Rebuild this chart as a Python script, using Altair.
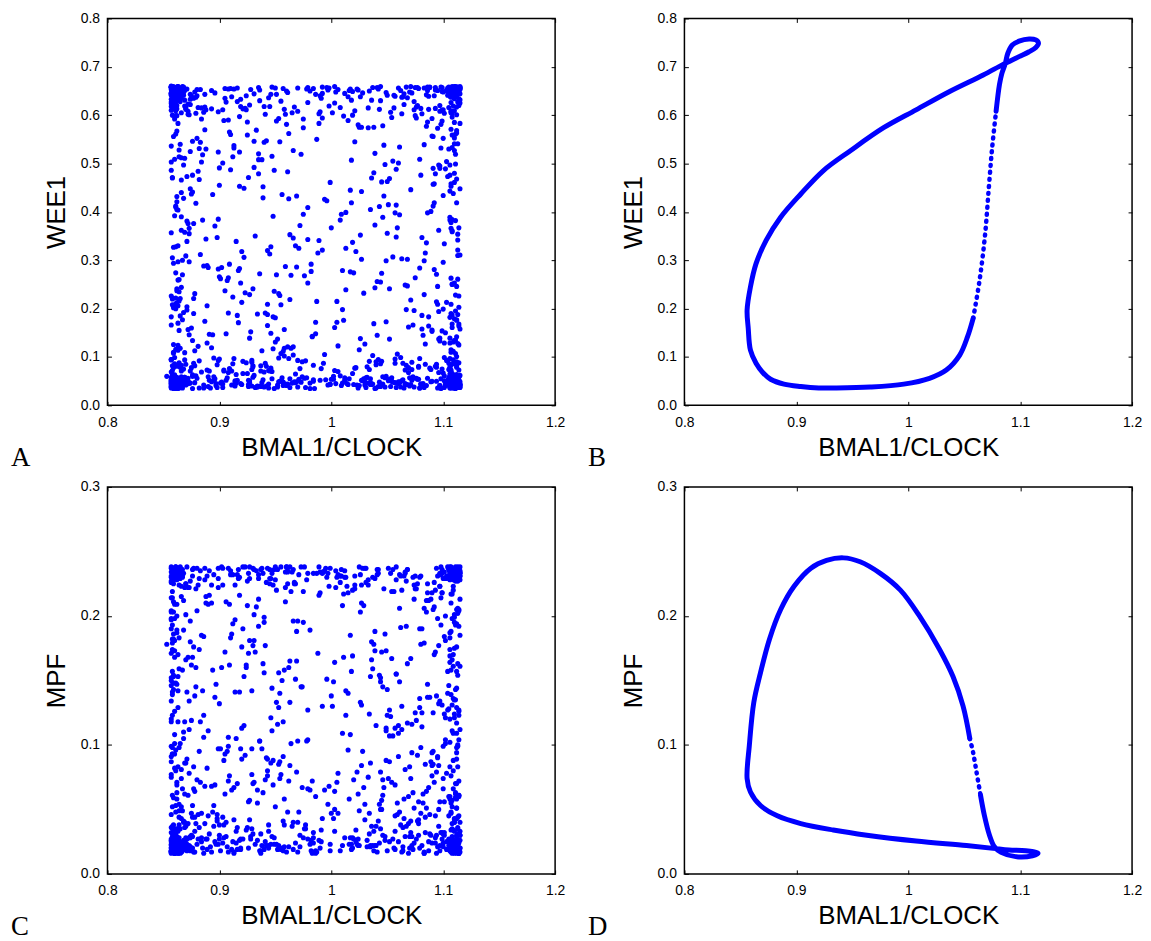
import altair as alt
import pandas as pd

# ---------------- data ----------------
# BMAL1/CLOCK values of the cells (shared by panels A and C)
bmal1 = [
0.861,0.973,1.112,0.904,1.047,0.858,1.108,0.927,0.871,1.063,0.992,1.113,0.889,1.096,0.864,1.031,0.958,0.912,1.077,1.107,
1.009,0.857,0.943,1.114,0.876,1.088,0.866,1.024,0.898,1.101,0.862,0.967,1.056,1.110,0.921,0.859,1.071,0.984,1.106,0.935,
0.868,1.113,1.039,0.952,0.860,0.884,1.109,1.082,0.999,0.873,1.044,1.094,0.857,0.916,1.111,0.946,1.018,0.863,1.067,0.901,
1.105,0.938,0.865,1.059,0.981,1.115,0.893,0.858,1.028,1.099,0.927,0.870,1.112,0.962,1.085,0.907,0.861,1.049,1.003,0.882,
0.957,1.108,0.866,0.912,1.074,0.859,1.036,0.994,1.114,0.878,0.931,1.092,0.862,1.052,0.886,1.107,0.971,1.013,0.857,0.949,
1.066,0.863,1.110,0.890,1.021,0.940,1.103,0.857,0.975,1.081,0.869,1.113,0.918,1.045,0.861,0.988,1.097,0.904,1.109,1.029,
0.858,0.926,1.058,1.115,0.865,0.963,1.087,0.899,1.106,0.874,1.041,0.860,1.002,1.112,0.935,1.070,0.883,1.100,0.956,0.864,
1.111,0.911,0.859,1.033,0.985,1.104,0.867,1.078,0.944,0.862,1.060,1.108,0.895,1.019,0.872,0.968,1.114,1.090,0.923,0.857,
0.996,1.107,0.863,1.050,0.908,1.113,0.877,0.860,1.083,0.953,1.026,1.095,0.932,0.858,1.110,0.887,1.064,0.979,0.866,1.105,
0.919,0.861,1.112,1.037,0.970,0.857,1.098,0.900,1.109,1.054,0.869,0.941,1.011,1.115,0.864,1.072,0.885,0.959,1.106,1.042,
0.862,1.079,0.946,1.111,0.880,1.017,0.859,1.102,0.913,0.990,1.114,1.061,0.871,0.929,1.107,0.865,1.046,0.964,1.093,0.858,
1.108,0.896,1.035,0.860,0.977,1.113,1.069,0.875,0.952,0.863,1.089,1.110,0.915,1.005,0.857,1.057,0.939,1.104,0.868,1.022,
0.937,0.866,1.106,0.987,1.048,0.858,1.115,0.903,0.873,1.097,1.030,0.961,1.109,0.861,0.924,1.075,0.889,1.112,0.998,0.864,
1.053,1.111,0.859,0.909,1.086,0.966,0.867,1.107,1.015,0.930,0.862,1.101,1.040,0.881,1.113,0.949,0.857,1.065,0.983,1.108,
0.870,0.917,1.110,1.062,0.860,0.993,1.091,0.897,1.114,0.863,1.027,0.955,1.105,0.876,0.942,1.080,0.858,1.112,1.008,0.905,
1.109,0.864,0.973,1.044,0.892,1.115,0.857,1.073,0.928,1.099,0.866,1.020,0.960,1.107,0.879,0.914,1.055,0.861,1.111,0.981,
0.859,1.034,1.106,0.948,0.872,1.084,1.113,0.910,0.862,0.997,1.068,1.094,0.936,0.858,1.112,0.888,1.012,0.969,0.865,1.108,
1.046,0.861,0.920,1.110,0.978,1.103,0.868,1.025,0.857,0.902,1.114,1.076,0.954,0.874,1.106,0.863,0.933,1.038,1.092,0.860,
0.991,1.112,0.867,1.058,0.894,0.859,1.109,0.945,1.081,1.016,0.864,1.100,0.926,1.115,0.878,0.972,1.051,0.857,1.107,0.908,
0.862,1.070,0.951,1.111,0.883,1.032,0.858,1.096,0.916,1.113,0.866,1.004,0.963,1.043,0.860,1.106,0.898,1.087,0.869,1.110,
1.023,0.857,0.938,1.108,0.976,0.863,1.064,1.114,0.890,0.861,1.093,0.947,1.010,1.105,0.873,0.921,1.078,0.859,1.112,0.986,
1.114,0.906,0.865,1.049,0.958,1.109,0.857,1.085,0.877,1.001,1.111,0.931,0.862,1.060,1.098,0.944,0.868,1.019,1.107,0.891,
0.860,0.968,1.113,1.037,0.911,0.864,1.102,0.982,1.072,0.858,1.110,0.925,0.875,1.053,1.106,0.953,0.861,1.089,0.900,1.115,
1.031,1.107,0.859,0.934,1.066,0.870,1.112,0.995,0.887,1.104,0.863,1.014,0.943,1.108,0.857,1.079,0.913,0.966,1.111,0.866,
0.919,0.862,1.057,1.114,0.979,0.858,1.095,0.903,1.109,0.872,1.041,0.957,0.860,1.113,0.929,1.074,0.884,1.106,1.006,0.864,
1.110,0.950,0.866,1.027,1.101,0.895,0.857,1.063,0.989,1.115,0.861,0.918,1.083,0.876,1.107,0.974,1.047,0.859,1.112,0.937,
0.863,1.105,0.909,1.018,0.858,1.112,0.961,1.090,0.880,1.039,1.108,0.865,0.940,1.071,0.860,0.999,1.114,0.893,1.055,1.097,
0.984,0.859,1.111,1.044,0.871,0.922,1.106,0.862,1.076,0.955,1.113,0.886,1.024,0.857,1.103,0.914,0.868,1.061,0.970,1.109,
1.107,0.864,0.947,1.086,1.003,0.860,1.114,0.899,1.035,0.874,1.110,0.965,0.858,1.052,0.930,1.099,0.863,1.012,1.112,0.882,
0.866,1.068,1.108,0.927,0.859,0.992,1.115,0.879,1.042,1.091,0.861,0.906,1.111,0.960,1.020,0.857,1.080,0.942,1.106,0.869,
0.853,
0.859,1.108,0.934,0.863,1.072,1.112,0.870,0.986,0.857,1.099,0.915,1.110,0.861,1.041,0.957,0.865,1.106,0.874,1.113,0.858,
1.004,0.862,1.114,0.896,1.058,0.857,1.107,0.868,0.945,1.111,0.860,1.083,1.097,0.864,0.921,1.109,0.976,0.858,1.032,1.112,
0.866,1.105,0.908,1.113,0.859,1.065,0.962,0.862,1.110,0.877,1.023,1.108,0.857,0.939,1.101,0.865,1.115,0.994,0.861,1.049,
1.109,0.858,1.037,0.928,1.112,0.863,0.871,1.090,1.106,0.860,0.969,1.114,0.886,1.061,0.857,1.103,0.949,0.866,1.111,1.015,
0.862,0.953,1.107,0.859,1.078,0.899,1.113,0.864,1.026,0.857,1.110,0.873,0.981,1.096,0.861,0.919,1.108,1.054,0.858,1.115,
1.112,0.867,1.000,1.106,0.860,1.044,0.881,1.109,0.857,0.937,1.114,0.863,1.068,1.100,0.970,0.859,1.111,0.905,0.865,1.086,
0.858,1.113,0.942,0.862,1.107,1.019,0.869,1.110,0.960,0.857,1.075,1.104,0.891,0.864,1.112,1.035,0.861,0.925,1.108,0.999,
1.106,0.860,1.057,1.114,0.876,0.913,1.109,0.858,0.979,1.098,0.866,1.111,1.028,0.863,0.948,1.113,0.857,1.084,0.870,1.105,
0.864,1.030,1.112,0.857,0.902,1.107,0.989,0.861,1.115,1.062,0.872,0.858,1.108,0.931,1.102,0.866,1.046,1.110,0.955,0.860,
1.111,0.863,0.918,1.106,0.859,1.070,1.113,0.868,0.965,0.857,1.095,1.109,0.884,1.012,0.862,1.114,0.940,0.865,1.052,1.107,
0.857,1.112,1.008,0.862,0.893,1.105,0.860,1.081,1.110,0.947,0.867,1.113,1.025,0.858,0.974,1.108,0.864,1.100,0.911,1.115,
1.108,0.861,1.066,0.930,1.114,0.857,0.875,1.106,0.990,0.863,1.111,1.039,0.859,0.959,1.097,1.112,0.866,0.900,1.109,1.055,
0.860,0.984,1.113,0.865,1.088,0.858,1.107,0.923,0.871,1.115,1.017,0.862,1.110,0.951,0.857,1.073,1.104,0.889,0.864,1.111,
1.114,0.863,0.936,1.109,1.048,0.859,1.112,0.878,1.003,0.857,1.106,1.092,0.866,0.914,1.113,0.861,1.060,0.968,1.108,0.858,
0.865,1.110,1.029,0.857,0.897,1.115,0.862,1.077,1.107,0.944,0.869,1.112,0.860,0.992,1.101,0.858,1.040,1.109,0.926,0.864,
1.107,0.858,0.963,1.113,0.862,1.083,0.882,1.110,0.859,1.010,1.114,0.867,0.938,1.099,0.857,1.106,1.051,0.863,1.111,0.906,
0.861,1.115,1.069,0.866,0.950,1.108,0.857,0.874,1.112,1.021,0.860,1.094,0.917,1.106,0.863,0.978,1.113,0.858,1.036,1.109,
1.110,0.857,0.929,1.107,0.864,1.057,1.114,0.859,0.997,0.870,1.111,1.087,0.862,0.943,1.105,0.857,1.113,1.013,0.866,1.108,
0.858,1.033,1.112,0.863,0.910,1.109,0.860,1.074,0.956,1.115,0.865,1.102,0.880,1.106,0.857,0.982,1.043,1.111,0.861,0.920,
1.113,0.859,1.006,1.108,0.868,1.063,0.857,1.110,0.935,0.862,1.097,1.114,0.887,0.864,1.107,1.024,0.971,0.858,1.112,1.080,
0.863,1.106,0.952,0.857,1.111,1.045,0.873,0.860,1.115,0.903,1.091,1.109,0.866,0.987,0.858,1.107,1.067,0.862,1.113,0.932,
1.108,0.861,1.016,1.112,0.858,0.924,1.105,0.865,1.079,0.857,1.110,0.966,0.869,1.114,1.038,0.859,1.100,0.895,1.107,0.863,
0.857,1.113,0.941,0.862,1.060,1.109,0.876,0.858,1.111,1.002,0.864,1.085,1.106,0.916,0.860,1.115,0.975,0.866,1.050,1.108,
1.111,0.859,1.027,1.107,0.863,0.908,1.114,0.857,1.071,0.961,1.110,0.867,0.888,1.103,0.861,1.112,1.009,0.858,0.946,1.106,
0.864,1.109,0.979,0.857,1.113,1.034,0.860,0.927,1.108,0.872,1.093,1.115,0.862,0.954,1.065,0.858,1.111,0.899,1.107,0.865,
0.883,1.064,0.931,1.087,0.872,0.996,1.042,0.905,1.098,0.958,0.877,1.021,0.944,1.079,0.868,0.983,1.056,0.915,1.093,0.939,
1.011,0.889,1.069,0.926,1.101,0.873,0.967,1.034,0.901,1.083,0.948,0.879,1.058,0.991,0.920,1.095,0.869,1.027,0.954,1.074,
0.898,1.046,0.975,1.090,0.884,0.937,1.017,1.097,0.871,0.962,1.062,0.909,1.081,0.990,0.876,1.038,0.929,1.100,0.951,1.005,
1.071,0.893,1.025,0.946,1.099,0.880,1.052,0.918,0.970,1.086,0.870,1.003,0.935,1.067,0.896,1.094,0.959,1.030,0.882,1.078,
0.941,1.089,0.875,1.015,0.964,1.059,0.903,1.096,0.986,0.874,1.044,0.922,1.076,0.953,0.891,1.102,1.008,0.867,1.035,0.913,
1.085,0.927,1.049,0.878,0.998,1.092,0.943,1.066,0.885,1.019,0.961,1.098,0.907,1.040,0.870,0.979,1.073,0.933,1.088,0.894,
0.958,1.039,0.881,1.095,0.924,1.061,0.989,0.872,1.080,0.947,1.013,0.899,1.100,0.969,0.878,1.054,0.936,1.084,0.912,1.026,
1.097,0.886,0.972,1.045,0.916,1.077,0.869,1.000,1.091,0.950,0.890,1.063,0.930,1.018,0.877,1.086,0.966,1.048,0.904,1.101,
0.919,1.075,1.006,0.871,1.094,0.940,1.033,0.887,1.068,0.977,0.910,1.099,0.955,0.874,1.043,0.925,1.082,0.992,0.866,1.057,
1.036,0.900,1.090,0.963,0.879,1.072,0.945,1.010,1.096,0.888,0.984,1.050,0.873,0.934,1.079,1.022,0.908,1.093,0.957,0.876]

# WEE1 values (panel A)
wee1 = [
0.412,0.048,0.652,0.071,0.538,0.039,0.187,0.621,0.044,0.303,0.645,0.056,0.129,0.497,0.088,0.037,0.612,0.224,0.657,0.571,
0.041,0.633,0.165,0.052,0.476,0.658,0.083,0.036,0.347,0.604,0.212,0.049,0.641,0.553,0.066,0.108,0.043,0.655,0.389,0.520,
0.647,0.058,0.243,0.038,0.592,0.615,0.094,0.045,0.461,0.146,0.659,0.271,0.053,0.628,0.040,0.077,0.507,0.650,0.198,0.046,
0.074,0.047,0.639,0.367,0.035,0.583,0.119,0.654,0.051,0.610,0.229,0.042,0.468,0.097,0.642,0.057,0.328,0.173,0.625,0.531,
0.655,0.039,0.512,0.086,0.196,0.050,0.631,0.426,0.044,0.648,0.062,0.281,0.567,0.137,0.036,0.607,0.054,0.239,0.660,0.486,
0.043,0.206,0.637,0.059,0.545,0.069,0.652,0.038,0.395,0.158,0.619,0.048,0.453,0.091,0.643,0.315,0.041,0.589,0.112,0.055,
0.600,0.052,0.348,0.657,0.079,0.037,0.183,0.524,0.646,0.046,0.256,0.629,0.060,0.101,0.479,0.040,0.653,0.434,0.057,0.216,
0.049,0.638,0.126,0.574,0.035,0.656,0.270,0.081,0.044,0.613,0.501,0.168,0.052,0.649,0.376,0.065,0.039,0.557,0.233,0.624,
0.657,0.084,0.042,0.463,0.191,0.056,0.635,0.047,0.299,0.593,0.138,0.651,0.037,0.072,0.541,0.617,0.053,0.409,0.244,0.058,
0.045,0.561,0.644,0.103,0.038,0.226,0.658,0.491,0.063,0.050,0.358,0.602,0.176,0.041,0.636,0.089,0.518,0.287,0.054,0.654,
0.620,0.036,0.149,0.059,0.653,0.445,0.078,0.043,0.532,0.640,0.203,0.048,0.339,0.093,0.609,0.051,0.578,0.118,0.657,0.040,
0.251,0.646,0.055,0.509,0.037,0.627,0.068,0.160,0.042,0.659,0.401,0.585,0.046,0.215,0.618,0.096,0.053,0.473,0.641,0.318,
0.039,0.654,0.182,0.550,0.057,0.082,0.632,0.044,0.366,0.495,0.049,0.647,0.131,0.035,0.611,0.264,0.073,0.568,0.656,0.052,
0.606,0.043,0.294,0.076,0.651,0.527,0.041,0.190,0.638,0.058,0.421,0.099,0.036,0.484,0.644,0.236,0.050,0.622,0.142,0.047,
0.055,0.171,0.659,0.038,0.597,0.087,0.457,0.045,0.634,0.330,0.052,0.107,0.648,0.546,0.040,0.614,0.220,0.064,0.383,0.655,
0.642,0.048,0.519,0.255,0.036,0.625,0.094,0.059,0.653,0.154,0.440,0.043,0.581,0.070,0.637,0.051,0.307,0.200,0.499,0.046,
0.062,0.650,0.039,0.391,0.608,0.127,0.054,0.560,0.657,0.042,0.247,0.085,0.630,0.471,0.037,0.344,0.645,0.049,0.185,0.533,
0.044,0.599,0.213,0.656,0.057,0.504,0.075,0.041,0.641,0.285,0.164,0.617,0.050,0.448,0.097,0.652,0.038,0.575,0.419,0.053,
0.635,0.090,0.047,0.488,0.146,0.659,0.036,0.313,0.603,0.055,0.528,0.067,0.043,0.644,0.231,0.372,0.051,0.627,0.115,0.590,
0.058,0.648,0.270,0.040,0.544,0.080,0.621,0.194,0.052,0.655,0.466,0.045,0.353,0.612,0.061,0.139,0.037,0.639,0.511,0.048,
0.654,0.042,0.113,0.596,0.056,0.404,0.638,0.073,0.039,0.222,0.479,0.658,0.046,0.616,0.297,0.091,0.054,0.556,0.177,0.643,
0.038,0.627,0.540,0.060,0.157,0.649,0.044,0.336,0.087,0.605,0.050,0.492,0.241,0.656,0.035,0.636,0.428,0.066,0.209,0.052,
0.619,0.047,0.188,0.657,0.071,0.514,0.041,0.277,0.646,0.055,0.134,0.586,0.640,0.039,0.383,0.098,0.609,0.049,0.455,0.043,
0.057,0.458,0.652,0.040,0.249,0.615,0.083,0.053,0.570,0.641,0.170,0.045,0.320,0.604,0.069,0.036,0.537,0.121,0.659,0.051,
0.633,0.044,0.398,0.088,0.657,0.042,0.209,0.501,0.058,0.623,0.145,0.048,0.644,0.261,0.074,0.038,0.592,0.476,0.653,0.055,
0.046,0.181,0.648,0.575,0.037,0.098,0.610,0.051,0.341,0.655,0.043,0.524,0.229,0.063,0.637,0.059,0.433,0.110,0.601,0.040,
0.659,0.053,0.292,0.631,0.047,0.079,0.483,0.156,0.640,0.035,0.559,0.052,0.618,0.218,0.086,0.044,0.367,0.651,0.505,0.041,
0.050,0.613,0.135,0.039,0.654,0.449,0.065,0.237,0.056,0.629,0.310,0.042,0.580,0.645,0.093,0.048,0.192,0.534,0.608,0.037,
0.626,0.045,0.515,0.658,0.072,0.054,0.168,0.385,0.043,0.643,0.253,0.605,0.040,0.469,0.082,0.649,0.124,0.057,0.563,0.036,
0.052,0.636,0.359,0.047,0.202,0.594,0.656,0.061,0.039,0.490,0.624,0.148,0.055,0.650,0.274,0.095,0.044,0.547,0.639,0.058,
0.060,
0.043,0.651,0.038,0.297,0.052,0.640,0.047,0.172,0.036,0.588,0.064,0.049,0.410,0.657,0.041,0.118,0.079,0.622,0.354,0.045,
0.648,0.040,0.226,0.055,0.037,0.503,0.644,0.046,0.071,0.382,0.050,0.656,0.139,0.039,0.613,0.044,0.268,0.638,0.058,0.053,
0.039,0.087,0.654,0.045,0.327,0.036,0.562,0.051,0.642,0.190,0.042,0.659,0.048,0.429,0.061,0.628,0.037,0.105,0.054,0.647,
0.057,0.637,0.044,0.152,0.658,0.038,0.473,0.050,0.076,0.645,0.286,0.041,0.606,0.047,0.653,0.213,0.035,0.390,0.055,0.043,
0.641,0.049,0.366,0.036,0.655,0.093,0.042,0.235,0.638,0.053,0.527,0.046,0.650,0.068,0.038,0.618,0.161,0.057,0.305,0.044,
0.040,0.659,0.054,0.443,0.047,0.630,0.122,0.037,0.646,0.082,0.051,0.259,0.043,0.552,0.656,0.039,0.195,0.635,0.048,0.056,
0.652,0.045,0.081,0.643,0.036,0.337,0.058,0.609,0.041,0.486,0.657,0.052,0.147,0.039,0.640,0.047,0.274,0.066,0.649,0.043,
0.050,0.392,0.639,0.044,0.060,0.654,0.038,0.208,0.626,0.055,0.041,0.519,0.646,0.035,0.117,0.658,0.046,0.315,0.085,0.053,
0.637,0.042,0.176,0.657,0.048,0.073,0.603,0.039,0.448,0.651,0.056,0.037,0.250,0.644,0.045,0.362,0.059,0.634,0.051,0.099,
0.044,0.655,0.283,0.040,0.642,0.057,0.128,0.658,0.046,0.536,0.036,0.619,0.069,0.052,0.405,0.648,0.038,0.221,0.054,0.640,
0.658,0.037,0.061,0.432,0.049,0.647,0.043,0.186,0.636,0.055,0.300,0.040,0.575,0.653,0.090,0.047,0.155,0.611,0.042,0.659,
0.051,0.641,0.045,0.241,0.656,0.038,0.078,0.497,0.052,0.632,0.036,0.373,0.650,0.044,0.133,0.057,0.645,0.266,0.041,0.048,
0.639,0.053,0.342,0.046,0.657,0.064,0.039,0.614,0.204,0.049,0.654,0.035,0.461,0.643,0.095,0.056,0.043,0.289,0.649,0.050,
0.042,0.114,0.652,0.058,0.038,0.634,0.419,0.047,0.659,0.166,0.053,0.640,0.071,0.040,0.541,0.656,0.045,0.330,0.037,0.627,
0.655,0.048,0.232,0.643,0.041,0.062,0.599,0.054,0.378,0.036,0.651,0.142,0.046,0.658,0.051,0.470,0.084,0.638,0.039,0.260,
0.044,0.647,0.055,0.321,0.638,0.037,0.092,0.653,0.049,0.198,0.620,0.042,0.508,0.657,0.058,0.040,0.415,0.645,0.107,0.052,
0.650,0.038,0.162,0.059,0.656,0.045,0.357,0.633,0.041,0.077,0.642,0.050,0.279,0.036,0.583,0.654,0.048,0.222,0.043,0.639,
0.054,0.657,0.040,0.453,0.644,0.047,0.125,0.035,0.652,0.309,0.060,0.612,0.044,0.188,0.658,0.051,0.039,0.399,0.636,0.066,
0.641,0.046,0.246,0.037,0.655,0.086,0.052,0.628,0.436,0.042,0.649,0.150,0.056,0.038,0.659,0.292,0.048,0.561,0.645,0.043,
0.039,0.648,0.070,0.384,0.053,0.637,0.045,0.179,0.657,0.041,0.490,0.058,0.643,0.036,0.110,0.652,0.325,0.049,0.617,0.044,
0.656,0.050,0.137,0.040,0.639,0.273,0.047,0.063,0.653,0.037,0.412,0.645,0.055,0.215,0.042,0.605,0.658,0.081,0.046,0.350,
0.043,0.210,0.651,0.057,0.040,0.640,0.530,0.048,0.097,0.657,0.036,0.346,0.631,0.052,0.169,0.044,0.648,0.059,0.263,0.654,
0.645,0.038,0.087,0.658,0.049,0.438,0.035,0.623,0.228,0.054,0.646,0.041,0.129,0.656,0.046,0.311,0.574,0.043,0.641,0.062,
0.052,0.654,0.302,0.039,0.637,0.068,0.047,0.183,0.659,0.044,0.480,0.036,0.611,0.650,0.116,0.055,0.395,0.041,0.643,0.050,
0.649,0.042,0.253,0.657,0.037,0.074,0.634,0.051,0.361,0.046,0.652,0.158,0.040,0.545,0.644,0.058,0.035,0.282,0.655,0.048,
0.312,0.087,0.546,0.164,0.602,0.423,0.095,0.237,0.581,0.118,0.376,0.609,0.072,0.284,0.497,0.143,0.615,0.339,0.081,0.452,
0.598,0.206,0.078,0.471,0.129,0.355,0.617,0.091,0.262,0.539,0.183,0.604,0.414,0.076,0.318,0.573,0.109,0.442,0.227,0.611,
0.084,0.389,0.592,0.153,0.503,0.071,0.276,0.620,0.197,0.427,0.099,0.565,0.347,0.607,0.134,0.481,0.089,0.296,0.588,0.172,
0.446,0.613,0.115,0.328,0.075,0.552,0.241,0.597,0.093,0.398,0.618,0.161,0.508,0.083,0.371,0.214,0.602,0.127,0.467,0.079,
0.191,0.074,0.437,0.589,0.269,0.106,0.611,0.362,0.148,0.525,0.086,0.306,0.594,0.231,0.071,0.489,0.616,0.177,0.405,0.097,
0.577,0.139,0.299,0.082,0.619,0.458,0.209,0.073,0.383,0.600,0.121,0.532,0.258,0.090,0.612,0.343,0.166,0.569,0.077,0.436,
0.102,0.521,0.616,0.246,0.088,0.394,0.583,0.157,0.476,0.070,0.325,0.607,0.199,0.433,0.113,0.595,0.272,0.085,0.514,0.352,
0.608,0.288,0.076,0.462,0.186,0.620,0.094,0.367,0.556,0.131,0.285,0.603,0.080,0.419,0.221,0.586,0.104,0.498,0.073,0.334,
0.253,0.599,0.123,0.381,0.079,0.544,0.615,0.174,0.302,0.092,0.487,0.610,0.208,0.071,0.411,0.559,0.145,0.321,0.605,0.087,
0.470,0.096,0.593,0.219,0.418,0.074,0.618,0.279,0.137,0.530,0.083,0.356,0.601,0.189,0.509,0.078,0.264,0.614,0.112,0.441]

# MPF values (panel C)
mpf = [
0.021,0.145,0.236,0.038,0.067,0.018,0.198,0.229,0.027,0.112,0.233,0.083,0.019,0.177,0.044,0.237,0.158,0.025,0.092,0.210,
0.231,0.017,0.089,0.205,0.029,0.137,0.235,0.022,0.041,0.184,0.058,0.226,0.020,0.121,0.238,0.034,0.074,0.024,0.164,0.232,
0.026,0.234,0.173,0.019,0.101,0.047,0.223,0.062,0.237,0.028,0.149,0.016,0.214,0.036,0.230,0.086,0.023,0.129,0.192,0.018,
0.128,0.022,0.236,0.055,0.189,0.030,0.017,0.227,0.095,0.233,0.042,0.166,0.025,0.072,0.203,0.021,0.238,0.113,0.033,0.229,
0.018,0.217,0.081,0.232,0.024,0.154,0.037,0.235,0.020,0.064,0.181,0.226,0.029,0.107,0.016,0.236,0.048,0.142,0.099,0.023,
0.234,0.027,0.135,0.045,0.221,0.019,0.078,0.237,0.195,0.022,0.118,0.031,0.230,0.057,0.017,0.171,0.233,0.088,0.026,0.208,
0.061,0.020,0.228,0.161,0.035,0.238,0.025,0.097,0.187,0.018,0.232,0.126,0.043,0.070,0.213,0.029,0.235,0.021,0.150,0.224,
0.024,0.186,0.236,0.075,0.017,0.140,0.231,0.039,0.022,0.200,0.109,0.234,0.053,0.028,0.168,0.225,0.019,0.084,0.238,0.032,
0.230,0.047,0.019,0.123,0.237,0.026,0.066,0.209,0.016,0.156,0.232,0.090,0.023,0.179,0.040,0.228,0.021,0.104,0.235,0.060,
0.027,0.233,0.094,0.022,0.196,0.036,0.238,0.132,0.018,0.071,0.222,0.025,0.168,0.231,0.049,0.116,0.020,0.211,0.083,0.236,
0.147,0.020,0.229,0.059,0.237,0.028,0.182,0.101,0.017,0.234,0.045,0.206,0.023,0.077,0.139,0.232,0.030,0.219,0.024,0.093,
0.235,0.069,0.021,0.173,0.038,0.227,0.016,0.119,0.236,0.026,0.087,0.201,0.033,0.230,0.152,0.019,0.063,0.238,0.110,0.025,
0.018,0.215,0.102,0.233,0.029,0.052,0.185,0.237,0.022,0.134,0.042,0.225,0.080,0.017,0.160,0.231,0.027,0.194,0.068,0.235,
0.233,0.024,0.143,0.076,0.218,0.019,0.236,0.034,0.096,0.177,0.021,0.229,0.115,0.046,0.238,0.028,0.204,0.058,0.016,0.166,
0.086,0.229,0.017,0.191,0.035,0.234,0.125,0.023,0.061,0.237,0.210,0.020,0.146,0.044,0.226,0.098,0.026,0.232,0.018,0.172,
0.022,0.159,0.238,0.050,0.021,0.213,0.091,0.230,0.029,0.131,0.236,0.073,0.017,0.188,0.039,0.224,0.107,0.025,0.233,0.065,
0.236,0.031,0.120,0.224,0.019,0.085,0.202,0.232,0.024,0.054,0.163,0.237,0.018,0.141,0.043,0.215,0.028,0.079,0.229,0.020,
0.061,0.234,0.176,0.016,0.103,0.231,0.040,0.022,0.197,0.238,0.127,0.027,0.074,0.227,0.019,0.153,0.235,0.033,0.207,0.093,
0.025,0.089,0.230,0.155,0.048,0.018,0.220,0.236,0.114,0.023,0.183,0.066,0.233,0.030,0.138,0.021,0.237,0.198,0.057,0.017,
0.228,0.020,0.133,0.237,0.071,0.026,0.193,0.037,0.232,0.100,0.017,0.222,0.165,0.024,0.082,0.235,0.046,0.212,0.019,0.124,
0.023,0.226,0.097,0.035,0.238,0.170,0.018,0.060,0.209,0.231,0.028,0.144,0.022,0.236,0.078,0.190,0.042,0.225,0.117,0.016,
0.204,0.029,0.237,0.088,0.021,0.161,0.234,0.051,0.017,0.130,0.228,0.071,0.189,0.025,0.232,0.038,0.105,0.020,0.217,0.235,
0.034,0.151,0.019,0.230,0.065,0.236,0.200,0.026,0.094,0.018,0.175,0.227,0.047,0.122,0.238,0.022,0.080,0.213,0.030,0.233,
0.226,0.017,0.186,0.055,0.233,0.024,0.109,0.237,0.039,0.157,0.020,0.223,0.076,0.028,0.230,0.136,0.016,0.196,0.063,0.235,
0.019,0.237,0.069,0.123,0.027,0.214,0.231,0.044,0.170,0.021,0.236,0.091,0.032,0.206,0.142,0.224,0.025,0.058,0.232,0.018,
0.135,0.228,0.022,0.084,0.234,0.037,0.190,0.017,0.238,0.112,0.053,0.026,0.179,0.231,0.020,0.067,0.221,0.148,0.029,0.236,
0.233,0.045,0.162,0.019,0.219,0.098,0.235,0.024,0.073,0.229,0.131,0.016,0.195,0.041,0.237,0.023,0.104,0.210,0.027,0.056,
0.028,0.203,0.236,0.079,0.018,0.153,0.230,0.035,0.119,0.238,0.022,0.184,0.062,0.227,0.025,0.141,0.233,0.048,0.017,0.088,
0.232,0.021,0.111,0.225,0.050,0.168,0.016,0.237,0.086,0.029,0.199,0.234,0.024,0.127,0.070,0.218,0.019,0.235,0.157,0.036,
0.074,0.236,0.026,0.181,0.228,0.043,0.020,0.145,0.233,0.095,0.018,0.211,0.059,0.238,0.027,0.118,0.231,0.022,0.174,0.040,
0.178,
0.019,0.234,0.026,0.142,0.022,0.231,0.037,0.018,0.087,0.236,0.024,0.195,0.031,0.017,0.118,0.233,0.060,0.021,0.163,0.228,
0.235,0.020,0.072,0.025,0.238,0.134,0.018,0.041,0.229,0.023,0.181,0.016,0.232,0.098,0.027,0.236,0.035,0.157,0.021,0.051,
0.024,0.231,0.106,0.017,0.235,0.043,0.021,0.209,0.026,0.237,0.079,0.019,0.146,0.233,0.030,0.018,0.228,0.065,0.022,0.173,
0.230,0.018,0.159,0.027,0.237,0.033,0.020,0.094,0.234,0.016,0.188,0.024,0.123,0.232,0.046,0.019,0.236,0.022,0.070,0.140,
0.021,0.129,0.236,0.017,0.056,0.229,0.025,0.038,0.203,0.018,0.233,0.112,0.023,0.084,0.238,0.020,0.029,0.167,0.235,0.026,
0.233,0.022,0.047,0.237,0.019,0.152,0.027,0.231,0.075,0.016,0.192,0.034,0.236,0.024,0.103,0.018,0.228,0.062,0.021,0.137,
0.017,0.235,0.090,0.023,0.232,0.169,0.020,0.042,0.238,0.026,0.125,0.019,0.216,0.230,0.058,0.022,0.148,0.036,0.234,0.018,
0.230,0.025,0.113,0.019,0.236,0.067,0.021,0.182,0.233,0.032,0.017,0.135,0.237,0.024,0.088,0.229,0.020,0.044,0.201,0.027,
0.022,0.237,0.051,0.018,0.160,0.234,0.026,0.096,0.020,0.231,0.039,0.174,0.016,0.236,0.121,0.023,0.073,0.228,0.019,0.031,
0.235,0.016,0.141,0.024,0.232,0.083,0.019,0.212,0.037,0.238,0.021,0.109,0.028,0.230,0.063,0.018,0.156,0.234,0.025,0.048,
0.020,0.129,0.231,0.017,0.068,0.236,0.023,0.190,0.033,0.233,0.018,0.099,0.238,0.026,0.145,0.021,0.054,0.229,0.019,0.040,
0.232,0.024,0.081,0.237,0.016,0.171,0.030,0.235,0.020,0.118,0.227,0.022,0.059,0.234,0.018,0.205,0.043,0.027,0.136,0.236,
0.018,0.233,0.154,0.025,0.046,0.230,0.021,0.092,0.238,0.017,0.185,0.034,0.236,0.023,0.077,0.019,0.127,0.231,0.028,0.062,
0.237,0.020,0.103,0.229,0.026,0.038,0.234,0.017,0.164,0.022,0.233,0.071,0.019,0.197,0.236,0.029,0.115,0.024,0.052,0.232,
0.023,0.236,0.067,0.018,0.147,0.231,0.025,0.041,0.238,0.020,0.086,0.176,0.016,0.234,0.032,0.123,0.022,0.228,0.056,0.019,
0.229,0.021,0.133,0.035,0.235,0.017,0.095,0.024,0.232,0.208,0.019,0.049,0.237,0.027,0.150,0.018,0.074,0.233,0.022,0.040,
0.026,0.234,0.060,0.019,0.238,0.111,0.023,0.180,0.030,0.231,0.016,0.138,0.236,0.021,0.083,0.228,0.044,0.018,0.166,0.235,
0.232,0.017,0.097,0.025,0.236,0.045,0.020,0.153,0.233,0.028,0.193,0.018,0.071,0.237,0.022,0.120,0.036,0.230,0.024,0.057,
0.021,0.228,0.144,0.016,0.235,0.066,0.026,0.213,0.019,0.033,0.238,0.104,0.023,0.169,0.231,0.018,0.054,0.234,0.029,0.089,
0.236,0.020,0.078,0.233,0.024,0.130,0.017,0.040,0.229,0.187,0.022,0.061,0.237,0.019,0.158,0.027,0.232,0.093,0.016,0.047,
0.018,0.235,0.116,0.027,0.231,0.050,0.021,0.198,0.238,0.024,0.085,0.034,0.233,0.017,0.139,0.020,0.227,0.069,0.025,0.172,
0.234,0.022,0.058,0.019,0.237,0.162,0.026,0.101,0.230,0.016,0.043,0.236,0.023,0.126,0.018,0.211,0.031,0.232,0.076,0.021,
0.025,0.230,0.177,0.017,0.091,0.235,0.020,0.037,0.238,0.149,0.022,0.064,0.228,0.019,0.108,0.233,0.028,0.052,0.018,0.236,
0.231,0.019,0.131,0.024,0.237,0.072,0.016,0.203,0.032,0.234,0.021,0.158,0.027,0.229,0.048,0.018,0.236,0.098,0.023,0.183,
0.020,0.233,0.066,0.017,0.228,0.124,0.026,0.238,0.039,0.021,0.172,0.235,0.018,0.087,0.231,0.029,0.143,0.023,0.055,0.237,
0.118,0.036,0.201,0.067,0.222,0.151,0.041,0.093,0.214,0.058,0.176,0.224,0.033,0.129,0.189,0.072,0.219,0.105,0.045,0.163,
0.217,0.082,0.039,0.171,0.056,0.134,0.225,0.047,0.097,0.206,0.069,0.221,0.155,0.034,0.113,0.198,0.062,0.224,0.140,0.051,
0.043,0.145,0.219,0.076,0.185,0.031,0.108,0.223,0.089,0.160,0.038,0.209,0.125,0.218,0.053,0.178,0.035,0.099,0.220,0.071,
0.167,0.224,0.049,0.121,0.032,0.204,0.087,0.216,0.040,0.147,0.225,0.064,0.192,0.037,0.137,0.079,0.222,0.054,0.174,0.030,
0.073,0.030,0.162,0.218,0.101,0.046,0.224,0.132,0.060,0.196,0.035,0.115,0.221,0.085,0.031,0.181,0.226,0.066,0.153,0.042,
0.212,0.057,0.111,0.033,0.223,0.170,0.080,0.029,0.142,0.220,0.048,0.193,0.095,0.037,0.225,0.127,0.063,0.207,0.031,0.158,
0.038,0.188,0.224,0.091,0.034,0.149,0.216,0.061,0.178,0.029,0.123,0.222,0.074,0.165,0.044,0.219,0.103,0.032,0.194,0.133,
0.223,0.106,0.030,0.172,0.070,0.225,0.036,0.138,0.205,0.052,0.111,0.220,0.031,0.157,0.083,0.212,0.040,0.186,0.028,0.124,
0.097,0.221,0.047,0.141,0.030,0.199,0.224,0.068,0.117,0.035,0.183,0.218,0.077,0.028,0.154,0.208,0.055,0.130,0.223,0.033,
0.180,0.038,0.218,0.084,0.160,0.029,0.225,0.109,0.050,0.210,0.032,0.143,0.222,0.065,0.190,0.034,0.099,0.220,0.041,0.168]

# Limit cycle, panel B: densely sampled (slow) part, traced in order
cycle_b_x = [1.0785,1.0815,1.0835,1.0865,1.089,1.093,1.099,1.108,1.114,1.1164,1.114,1.108,1.099,1.092,1.084,
             1.067,1.037,1.007,0.978,0.948,0.924,0.904,0.886,0.873,0.864,0.859,0.856,0.857,0.859,0.864,
             0.870,0.877,0.889,0.904,0.920,0.936,0.966,0.996,1.019,1.034,1.046,1.053,1.058]
cycle_b_y = [0.608,0.663,0.685,0.705,0.728,0.745,0.753,0.7575,0.7555,0.749,0.740,0.731,0.721,0.713,0.704,
             0.683,0.649,0.611,0.574,0.526,0.485,0.437,0.389,0.341,0.293,0.245,0.197,0.160,0.114,0.087,
             0.068,0.054,0.044,0.039,0.036,0.036,0.038,0.044,0.056,0.073,0.104,0.142,0.180]
# Limit cycle, panel B: sparsely sampled (fast) right branch
fast_b_x = [1.058,1.0637,1.0687,1.072,1.075,1.0785]
fast_b_y = [0.180,0.258,0.354,0.450,0.533,0.608]

# Limit cycle, panel D: densely sampled part, traced in order
cycle_d_x = [1.0646,1.068,1.0726,1.077,1.083,1.096,1.111,1.116,1.105,1.090,1.076,1.052,1.007,0.963,0.933,
             0.904,0.883,0.868,0.859,0.856,0.858,0.862,0.868,0.876,0.886,0.898,0.913,0.927,0.942,0.957,
             0.975,0.993,1.010,1.028,1.040,1.049,1.055]
cycle_d_y = [0.061,0.0455,0.030,0.021,0.0167,0.0134,0.0141,0.016,0.018,0.0185,0.0198,0.022,0.0255,0.030,0.034,
             0.039,0.045,0.053,0.0635,0.074,0.0995,0.133,0.156,0.182,0.205,0.223,0.237,0.243,0.245,0.242,
             0.233,0.220,0.200,0.174,0.153,0.130,0.105]
# Limit cycle, panel D: sparsely sampled (fast) branch
fast_d_x = [1.055,1.058,1.061,1.0646]
fast_d_y = [0.105,0.094,0.079,0.061]

x_ticks = [0.8, 0.9, 1.0, 1.1, 1.2]
wee1_ticks = [0.0, 0.1, 0.2, 0.3, 0.4, 0.5, 0.6, 0.7, 0.8]
mpf_ticks = [0.0, 0.1, 0.2, 0.3]
x_title = "BMAL1/CLOCK"
letters = ["A", "B", "C", "D"]

# ---------------- styling ----------------
FONT = "Liberation Sans"
SERIF = "Liberation Serif"
BLUE = "#0000ff"
W, H = 450, 389
TICK = 4

xscale = alt.Scale(domain=[0.8, 1.2], nice=False, zero=False)


def yscale(ydom):
    return alt.Scale(domain=ydom, nice=False, zero=False)


def main_axes(ydom, yvals, ytitle):
    x = alt.X("x:Q", scale=xscale,
              axis=alt.Axis(orient="bottom", values=x_ticks, format="~g", title=x_title,
                            domain=False, grid=False, tickSize=TICK, offset=-TICK, tickColor="black",
                            labelPadding=10, labelFlush=False, labelOverlap=False,
                            labelFont=FONT, labelFontSize=14, labelColor="black",
                            titleFont=FONT, titleFontSize=26, titleFontWeight="normal",
                            titleColor="black", titlePadding=5))
    y = alt.Y("y:Q", scale=yscale(ydom),
              axis=alt.Axis(orient="left", values=yvals, format=".1f", title=ytitle,
                            domain=False, grid=False, tickSize=TICK, offset=-TICK, tickColor="black",
                            labelPadding=8, labelFlush=False, labelOverlap=False,
                            labelFont=FONT, labelFontSize=14, labelColor="black",
                            titleFont=FONT, titleFontSize=26, titleFontWeight="normal",
                            titleColor="black", titlePadding=11))
    return x, y


def mirror_axes(ydom, yvals):
    x = alt.X("x:Q", scale=xscale,
              axis=alt.Axis(orient="top", values=x_ticks, labels=False, title=None,
                            domain=False, grid=False, tickSize=TICK, offset=-TICK, tickColor="black"))
    y = alt.Y("y:Q", scale=yscale(ydom),
              axis=alt.Axis(orient="right", values=yvals, labels=False, title=None,
                            domain=False, grid=False, tickSize=TICK, offset=-TICK, tickColor="black"))
    return x, y


def letter_layer(letter):
    return alt.Chart(pd.DataFrame({"t": [letter]})).mark_text(
        font=SERIF, fontSize=27, align="left", baseline="alphabetic", color="black"
    ).encode(text="t:N", x=alt.value(-97), y=alt.value(450))


def scatter_panel(xs, ys, ydom, yvals, ytitle, letter):
    df = pd.DataFrame({"x": xs, "y": ys})
    mx, my = main_axes(ydom, yvals, ytitle)
    rx, ry = mirror_axes(ydom, yvals)
    pts = alt.Chart(df).mark_circle(size=26, color=BLUE, opacity=1).encode(x=mx, y=my)
    mir = alt.Chart(df).mark_circle(opacity=0).encode(x=rx, y=ry)
    return alt.layer(pts, mir, letter_layer(letter)).resolve_axis(
        x="independent", y="independent").properties(width=W, height=H)


def cycle_panel(xs, ys, fx, fy, ydom, yvals, ytitle, letter):
    df = pd.DataFrame({"x": xs, "y": ys, "i": list(range(len(xs)))})
    dff = pd.DataFrame({"x": fx, "y": fy, "i": list(range(len(fx)))})
    mx, my = main_axes(ydom, yvals, ytitle)
    rx, ry = mirror_axes(ydom, yvals)
    line = alt.Chart(df).mark_line(color=BLUE, strokeWidth=5, interpolate="catmull-rom",
                                   strokeCap="round", strokeJoin="round").encode(
        x=mx, y=my, order="i:Q")
    fast = alt.Chart(dff).mark_line(color=BLUE, strokeWidth=4.5, interpolate="catmull-rom",
                                    strokeCap="round", strokeDash=[1, 6]).encode(
        x=alt.X("x:Q", scale=xscale, axis=None),
        y=alt.Y("y:Q", scale=yscale(ydom), axis=None),
        order="i:Q")
    mir = alt.Chart(df).mark_circle(opacity=0).encode(x=rx, y=ry)
    return alt.layer(line, fast, mir, letter_layer(letter)).resolve_axis(
        x="independent", y="independent").properties(width=W, height=H)


pA = scatter_panel(bmal1, wee1, [0, 0.8], wee1_ticks, "WEE1", letters[0])
pB = cycle_panel(cycle_b_x, cycle_b_y, fast_b_x, fast_b_y, [0, 0.8], wee1_ticks, "WEE1", letters[1])
pC = scatter_panel(bmal1, mpf, [0, 0.3], mpf_ticks, "MPF", letters[2])
pD = cycle_panel(cycle_d_x, cycle_d_y, fast_d_x, fast_d_y, [0, 0.3], mpf_ticks, "MPF", letters[3])

chart = alt.vconcat(
    alt.hconcat(pA, pB, spacing=21),
    alt.hconcat(pC, pD, spacing=21),
    spacing=7,
).configure_view(stroke="black", strokeWidth=1.5).properties(
    padding={"left": 2, "top": 0, "right": 0, "bottom": 0}
)

chart.save("out.html", embed_options={"renderer": "svg", "actions": False})
